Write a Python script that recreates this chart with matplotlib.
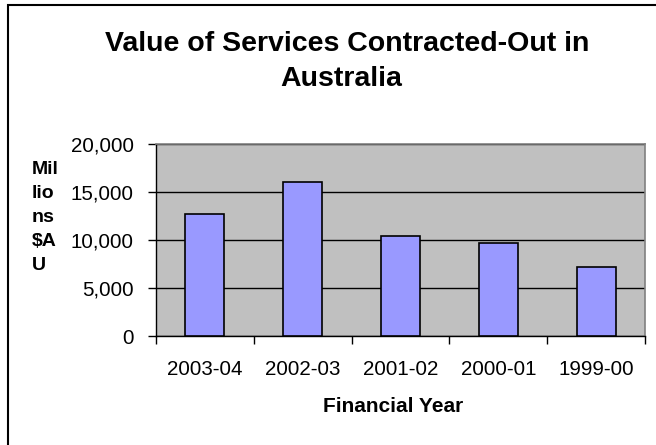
import matplotlib
matplotlib.use("Agg")
import matplotlib.pyplot as plt
from matplotlib.patches import Rectangle
import numpy as np

categories = ["2003-04", "2002-03", "2001-02", "2000-01", "1999-00"]
values = [12700, 16000, 10450, 9700, 7200]
yticks = [0, 5000, 10000, 15000, 20000]
ytick_labels = ["0", "5,000", "10,000", "15,000", "20,000"]

plt.rcParams['font.family'] = ['Liberation Sans', 'DejaVu Sans']

W, H = 656, 445
fig = plt.figure(figsize=(W / 100, H / 100), dpi=100)

# outer chart border (partially cropped)
fig.patches.append(Rectangle((8 / W, -0.1), 2.0, 1 - 5 / H + 0.1, transform=fig.transFigure,
                             fill=False, edgecolor='black', linewidth=1.5))

left, right, top, bottom = 156, 645, 144, 336
ax = fig.add_axes([left / W, 1 - bottom / H, (right - left) / W, (bottom - top) / H])
ax.set_facecolor('#C0C0C0')

x = np.arange(len(categories))
ax.set_axisbelow(True)
ax.yaxis.grid(True, color='black', linewidth=1)
ax.bar(x, values, width=0.4, color='#9999FF', edgecolor='black', linewidth=1.2, zorder=3)

ax.set_xlim(-0.5, len(categories) - 0.5)
ax.set_ylim(0, 20000)
ax.set_yticks(yticks)
ax.set_yticklabels(ytick_labels, fontsize=14.8)
ax.set_xticks(x)
ax.set_xticklabels(categories, fontsize=14.8)
ax.set_xticks(np.arange(-0.5, len(categories)), minor=True)
ax.tick_params(axis='x', which='major', length=0, pad=17)
ax.tick_params(axis='x', which='minor', length=6, width=1, color='black')
ax.tick_params(axis='y', length=6, width=1, color='black', pad=10)

for s in ['top', 'right']:
    ax.spines[s].set_color('#808080')
    ax.spines[s].set_linewidth(1.2)
for s in ['left', 'bottom']:
    ax.spines[s].set_color('black')
    ax.spines[s].set_linewidth(1)

fig.text(347 / W, 1 - 51 / H, "Value of Services Contracted-Out in", ha='center', va='baseline',
         fontsize=20.5, fontweight='bold')
fig.text(341 / W, 1 - 86 / H, "Australia", ha='center', va='baseline',
         fontsize=20.5, fontweight='bold')
fig.text(393 / W, 1 - 411.5 / H, "Financial Year", ha='center', va='baseline',
         fontsize=15, fontweight='bold')
fig.text(32 / W, 1 - 161 / H, "Mil\nlio\nns\n$A\nU", ha='left', va='top',
         fontsize=14, fontweight='bold', linespacing=1.53, multialignment='left')

fig.savefig("out.png", dpi=100)
